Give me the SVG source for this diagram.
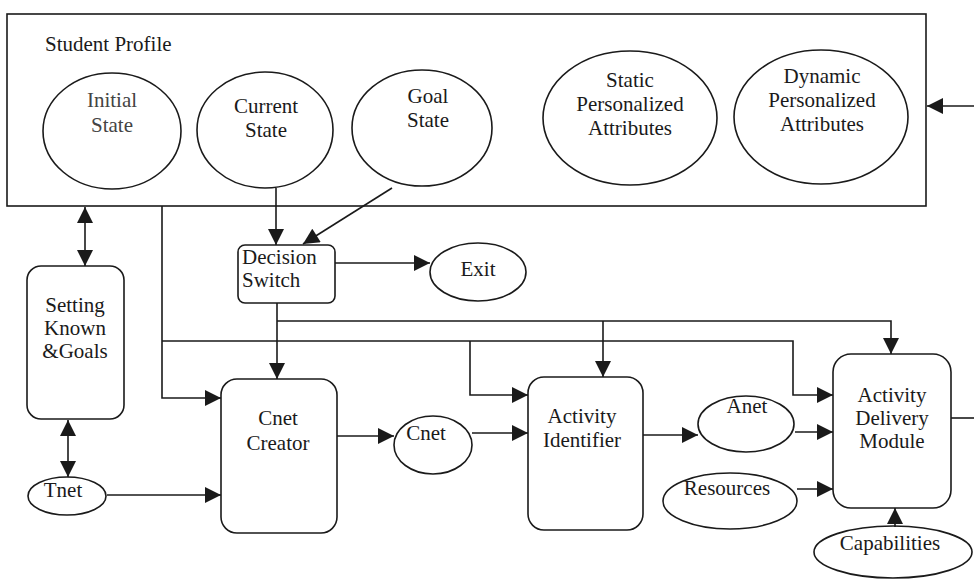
<svg xmlns="http://www.w3.org/2000/svg" width="974" height="579" viewBox="0 0 974 579">
  <style>
    .shape { fill: #fff; stroke: #1a1a1a; stroke-width: 1.6; }
    .wire { fill: none; stroke: #1a1a1a; stroke-width: 1.6; }
    .arr { marker-end: url(#head); }
    .both { marker-start: url(#head); marker-end: url(#head); }
    text { font-family: "Liberation Serif", "Times New Roman", serif; font-size: 21px; fill: #1a1a1a; }
    .mid { text-anchor: middle; }
  </style>
  <defs>
    <marker id="head" viewBox="0 0 10 10" refX="10" refY="5" markerWidth="18" markerHeight="16" markerUnits="userSpaceOnUse" orient="auto-start-reverse">
      <path d="M0,0 L10,5 L0,10 z" fill="#1a1a1a"/>
    </marker>
  </defs>

  <!-- Student profile container -->
  <g id="student-profile">
    <rect class="shape" x="7" y="14" width="919" height="192"/>
    <text x="45" y="51">Student Profile</text>
  </g>
  <g id="initial-state">
    <ellipse class="shape" cx="112" cy="131" rx="69" ry="58"/>
    <text class="mid" x="112" y="107" style="fill:#444">Initial</text>
    <text class="mid" x="112" y="132" style="fill:#444">State</text>
  </g>
  <g id="current-state">
    <ellipse class="shape" cx="265" cy="130" rx="68" ry="58"/>
    <text class="mid" x="266" y="113">Current</text>
    <text class="mid" x="266" y="137">State</text>
  </g>
  <g id="goal-state">
    <ellipse class="shape" cx="422" cy="128" rx="70" ry="58"/>
    <text class="mid" x="428" y="103">Goal</text>
    <text class="mid" x="428" y="127">State</text>
  </g>
  <g id="static-attributes">
    <ellipse class="shape" cx="630" cy="118" rx="87" ry="67"/>
    <text class="mid" x="630" y="87">Static</text>
    <text class="mid" x="630" y="111">Personalized</text>
    <text class="mid" x="630" y="135">Attributes</text>
  </g>
  <g id="dynamic-attributes">
    <ellipse class="shape" cx="821" cy="117" rx="87" ry="67"/>
    <text class="mid" x="822" y="83">Dynamic</text>
    <text class="mid" x="822" y="107">Personalized</text>
    <text class="mid" x="822" y="131">Attributes</text>
  </g>

  <!-- Process blocks -->
  <g id="decision-switch">
    <rect class="shape" x="238" y="245" width="97" height="58" rx="7"/>
    <text x="242" y="264">Decision</text>
    <text x="242" y="287">Switch</text>
  </g>
  <g id="exit">
    <ellipse class="shape" cx="478" cy="272" rx="48" ry="29"/>
    <text class="mid" x="478" y="276">Exit</text>
  </g>
  <g id="setting-known-goals">
    <rect class="shape" x="27" y="266" width="97" height="153" rx="14"/>
    <text class="mid" x="75" y="312">Setting</text>
    <text class="mid" x="75" y="335">Known</text>
    <text class="mid" x="75" y="358">&amp;Goals</text>
  </g>
  <g id="tnet">
    <ellipse class="shape" cx="67" cy="496" rx="39" ry="19"/>
    <text class="mid" x="63" y="497">Tnet</text>
  </g>
  <g id="cnet-creator">
    <rect class="shape" x="221" y="379" width="116" height="154" rx="16"/>
    <text class="mid" x="278" y="425">Cnet</text>
    <text class="mid" x="278" y="450">Creator</text>
  </g>
  <g id="cnet">
    <ellipse class="shape" cx="433" cy="445" rx="39" ry="29"/>
    <text class="mid" x="426" y="440">Cnet</text>
  </g>
  <g id="activity-identifier">
    <rect class="shape" x="528" y="377" width="115" height="153" rx="16"/>
    <text class="mid" x="582" y="423">Activity</text>
    <text class="mid" x="582" y="447">Identifier</text>
  </g>
  <g id="anet">
    <ellipse class="shape" cx="746" cy="424" rx="48" ry="28"/>
    <text class="mid" x="747" y="413">Anet</text>
  </g>
  <g id="resources">
    <ellipse class="shape" cx="730" cy="501" rx="67" ry="28"/>
    <text class="mid" x="727" y="495">Resources</text>
  </g>
  <g id="activity-delivery-module">
    <rect class="shape" x="833" y="354" width="118" height="154" rx="18"/>
    <text class="mid" x="892" y="402">Activity</text>
    <text class="mid" x="892" y="425">Delivery</text>
    <text class="mid" x="892" y="448">Module</text>
  </g>
  <g id="capabilities">
    <ellipse class="shape" cx="893" cy="552" rx="79" ry="26"/>
    <text class="mid" x="890" y="550">Capabilities</text>
  </g>

  <!-- Connectors -->
  <g id="connectors">
    <!-- feedback into the profile and out of the delivery module -->
    <line class="wire arr" x1="974" y1="106" x2="927" y2="106"/>
    <line class="wire" x1="951" y1="418" x2="974" y2="418"/>

    <!-- profile states to decision switch -->
    <line class="wire arr" x1="276" y1="188" x2="276" y2="245"/>
    <line class="wire arr" x1="392" y1="188" x2="303" y2="244"/>
    <line class="wire arr" x1="335" y1="263" x2="430" y2="263"/>

    <!-- profile <-> setting <-> tnet -->
    <line class="wire both" x1="85" y1="207" x2="85" y2="266"/>
    <line class="wire both" x1="68" y1="420" x2="68" y2="477"/>

    <!-- decision switch fan-out -->
    <line class="wire arr" x1="277" y1="303" x2="277" y2="379"/>
    <polyline class="wire arr" points="277,321 891,321 891,354"/>
    <line class="wire arr" x1="603" y1="321" x2="603" y2="377"/>

    <!-- profile fan-out -->
    <polyline class="wire arr" points="162,206 162,398 221,398"/>
    <polyline class="wire arr" points="162,341 793,341 793,395 833,395"/>
    <polyline class="wire arr" points="470,341 470,395 528,395"/>

    <!-- main pipeline -->
    <line class="wire arr" x1="107" y1="495" x2="221" y2="495"/>
    <line class="wire arr" x1="337" y1="436" x2="394" y2="436"/>
    <line class="wire arr" x1="472" y1="433" x2="528" y2="433"/>
    <line class="wire arr" x1="643" y1="435" x2="698" y2="435"/>
    <line class="wire arr" x1="795" y1="432" x2="833" y2="432"/>
    <line class="wire arr" x1="797" y1="489" x2="833" y2="489"/>
    <line class="wire arr" x1="895" y1="527" x2="895" y2="508"/>
  </g>
</svg>
